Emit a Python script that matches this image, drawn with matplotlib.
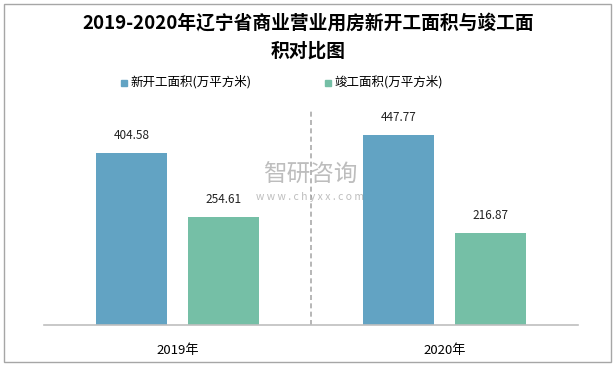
import matplotlib
matplotlib.use("Agg")
import matplotlib.pyplot as plt
import numpy as np
from matplotlib.patches import Rectangle

plt.rcParams['font.family'] = ['Noto Sans CJK SC', 'DejaVu Sans']

categories = ["2019年", "2020年"]
series_names = ["新开工面积(万平方米)", "竣工面积(万平方米)"]
new_start = [404.58, 447.77]
completed = [254.61, 216.87]
colors = ["#62A3C3", "#75BFA6"]
title = "2019-2020年辽宁省商业营业用房新开工面积与竣工面\n积对比图"

fig = plt.figure(figsize=(6.16, 3.65), dpi=100)
ax = fig.add_axes([44/616, 1-325/365, 534/616, 215/365])

x = np.arange(len(categories))
w = 0.266
off = 0.171
b1 = ax.bar(x - off, new_start, w, color=colors[0], label=series_names[0])
b2 = ax.bar(x + off, completed, w, color=colors[1], label=series_names[1])
for bars, vals in ((b1, new_start), (b2, completed)):
    for r, v in zip(bars, vals):
        ax.annotate(f"{v:.2f}", (r.get_x() + r.get_width()/2, v), xytext=(0, 8),
                    textcoords="offset points", ha="center", va="bottom", fontsize=8.5, color="#222222")

ax.set_xlim(-0.5, 1.5)
ax.set_ylim(0, 507)
ax.axvline(0.5, color="#AAAAAA", linestyle=(0, (3, 2)), linewidth=1.2)
for s in ["top", "right", "left"]:
    ax.spines[s].set_visible(False)
ax.spines["bottom"].set_color("#BFBFBF")
ax.spines["bottom"].set_linewidth(1.2)
ax.set_yticks([])
ax.set_xticks(x)
ax.set_xticklabels(categories, fontsize=9.5)
ax.tick_params(axis="x", length=0, pad=14)

fig.text(0.5, 1-37/365, title, ha="center", va="center", fontsize=13.5, fontweight="bold",
         linespacing=1.65)

# legend
fig.patches.append(Rectangle((121/616, 1-86/365), 6/616, 6/365, transform=fig.transFigure,
                             color=colors[0]))
fig.text(130/616, 1-82/365, series_names[0], ha="left", va="center", fontsize=9)
fig.patches.append(Rectangle((325/616, 1-86/365), 6/616, 6/365, transform=fig.transFigure,
                             color=colors[1]))
fig.text(334/616, 1-82/365, series_names[1], ha="left", va="center", fontsize=9)

# watermark
fig.text(310/616, 1-175/365, "智研咨询", ha="center", va="center", fontsize=17,
         color="#888888", alpha=0.55)
fig.text(310/616, 1-197/365, "w w w . c h y x x . c o m", ha="center", va="center", fontsize=7.5,
         color="#888888", alpha=0.55)

# border
fig.patches.append(Rectangle((4/616, 3/365), 607/616, 358/365, transform=fig.transFigure,
                             fill=False, edgecolor="#A6A6A6", linewidth=1))

fig.savefig("out.png", dpi=100)
